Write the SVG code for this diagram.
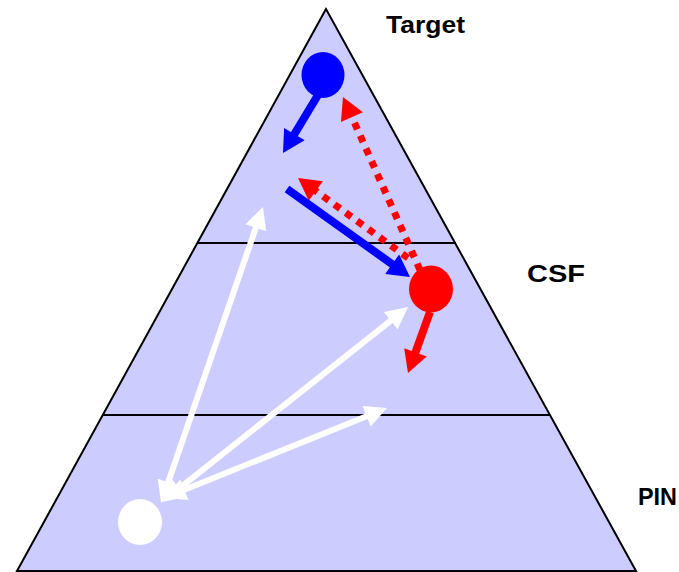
<svg xmlns="http://www.w3.org/2000/svg" width="679" height="572" viewBox="0 0 679 572">
<style>
.lbl{font-family:"Liberation Sans",Arial,sans-serif;font-weight:bold;font-size:23px;fill:#000}
.div{stroke:#000;stroke-width:2}
.wh{stroke:#fff;stroke-width:6;fill:none;marker-start:url(#mw);marker-end:url(#mw)}
.bl{stroke:#00f;stroke-width:8;fill:none;marker-end:url(#mb)}
.rs{stroke:#f00;stroke-width:8;fill:none;marker-end:url(#mr)}
.rd{stroke:#f00;stroke-width:7;stroke-dasharray:7 7;fill:none;marker-end:url(#mr)}
</style>
<defs>
<marker id="mw" markerUnits="userSpaceOnUse" markerWidth="30" markerHeight="30" refX="4" refY="0" orient="auto-start-reverse" overflow="visible"><path d="M0,-11 L22,0 L0,11 Z" fill="#fff"/></marker>
<marker id="mb" markerUnits="userSpaceOnUse" markerWidth="30" markerHeight="30" refX="4" refY="0" orient="auto" overflow="visible"><path d="M0,-12 L22,0 L0,12 Z" fill="#00f"/></marker>
<marker id="mr" markerUnits="userSpaceOnUse" markerWidth="30" markerHeight="30" refX="4" refY="0" orient="auto" overflow="visible"><path d="M0,-12 L22,0 L0,12 Z" fill="#f00"/></marker>
</defs>
<g id="triangle">
<polygon points="326,9 17,571 636,571" fill="#ccccff" stroke="#000" stroke-width="2"/>
<line class="div" x1="197" y1="243" x2="456" y2="243"/>
<line class="div" x1="102" y1="415" x2="550" y2="415"/>
</g>
<g id="connectors">
<line class="wh" x1="257.1" y1="224" x2="166.9" y2="486"/>
<line class="wh" x1="393.9" y1="318.2" x2="176.1" y2="490.8"/>
<line class="wh" x1="370.3" y1="414.7" x2="180.7" y2="491.3"/>
<line class="rd" x1="420" y1="270" x2="350.3" y2="113.4"/>
<line class="rd" x1="408" y1="258" x2="312.6" y2="188.6"/>
<line class="bl" x1="318" y1="95" x2="292.3" y2="137.6"/>
<line class="bl" x1="287" y1="189" x2="395.4" y2="266.5"/>
<line class="rs" x1="430" y1="312" x2="414.1" y2="356.1"/>
</g>
<g id="node-target"><ellipse cx="323" cy="75" rx="21.5" ry="23" fill="#00f"/></g>
<g id="node-csf"><ellipse cx="431" cy="289" rx="22" ry="23.5" fill="#f00"/></g>
<g id="node-pin"><ellipse cx="140" cy="522" rx="22" ry="23" fill="#fff"/></g>
<g id="label-target"><text class="lbl" x="386" y="33" textLength="79" lengthAdjust="spacingAndGlyphs">Target</text></g>
<g id="label-csf"><text class="lbl" x="527" y="282" textLength="58" lengthAdjust="spacingAndGlyphs">CSF</text></g>
<g id="label-pin"><text class="lbl" x="638" y="505" textLength="39" lengthAdjust="spacingAndGlyphs">PIN</text></g>
</svg>
